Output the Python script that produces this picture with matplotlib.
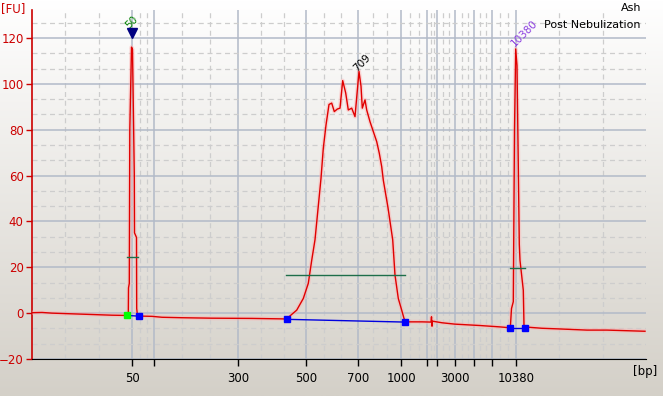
import numpy as np
import matplotlib
matplotlib.use("Agg")
import matplotlib.pyplot as plt
from matplotlib.ticker import FixedLocator, MultipleLocator

# migration position (arbitrary run units) and fluorescence [FU]
trace_pos = [0, 10, 20, 40, 60, 80, 94, 96.3, 96.5, 97.3, 97.8, 99.5, 100.5, 102.3, 102.5, 104.5, 104.7,
             105.5, 106.5, 110, 120, 130, 150, 180, 220, 250, 254.7, 258, 264.7, 271.3, 276.3, 279.7,
             283, 289, 291.3, 294, 297, 299.7, 302.3, 305.3, 308, 310.7, 313.7, 316.3, 319.7, 323, 327,
             329, 330.3, 333, 334.7, 338, 341.3, 344.7, 347.3, 349.7, 351.3, 356, 360.7, 363, 366.3,
             369.7, 372, 373.3, 376, 390, 399, 399.5, 400, 400.5, 410, 423, 448, 468, 478.3, 479.5,
             481.3, 482.5, 483.7, 485, 487.3, 488, 491.3, 492, 493.3, 498, 510, 528, 555, 575, 590, 613]
trace_fu = [0.2, 0.3, 0.0, -0.3, -0.6, -0.9, -1.0, -0.8, 11, 13, 80, 116, 115, 60, 35, 33, 2,
            -1.1, -1.3, -1.3, -1.4, -1.8, -2.0, -2.2, -2.3, -2.5, -2.6, -1.2, 1.3, 6.4, 13, 23,
            32, 58.8, 71.9, 82, 91, 91.6, 87.9, 89, 89.4, 101.4, 96, 88.6, 89.4, 85.7, 105.4,
            99, 89.4, 93, 88.6, 83.5, 79.2, 74.8, 69.7, 63.9, 58, 46, 32, 16.6, 6.4,
            1.3, -2.3, -3.5, -3.8, -3.8, -3.9, -1.6, -5.7, -3.5, -4.2, -4.8, -5.4, -6.0, -6.4, 2,
            5, 80, 115.2, 108, 30, 23, 10, -5.5, -6.2, -6.2, -6.6, -6.9, -7.4, -7.4, -7.6, -7.9]

# x axis ladder: tick positions and bp labels
tick_pos = [100.3, 122.3, 206.3, 274.3, 326.3, 369.3, 395.3, 405.3, 423.3, 442.3, 459.7, 484.3]
tick_lbl = ["50", "", "300", "500", "700", "1000", "", "", "3000", "", "", "10380"]
x_max = 613.7

# peak start / end markers
start_pos = [95.3]
start_fu = [-1.0]
end_pos = [106.5, 254.7, 373.3, 478.3, 493.3]
end_fu = [-1.3, -2.7, -3.9, -6.4, -6.4]
# baselines under peaks/region
base_x = [[95.3, 106.5], [254.7, 373.3], [478.3, 493.3]]
base_y = [[-1.0, -1.3], [-2.7, -3.9], [-6.4, -6.4]]
# width lines
width_x = [[95, 106], [254, 373], [478, 493]]
width_y = [24.3, 16.6, 19.5]

# peak labels
peak_lbl = ["50", "709", "10380"]
peak_lbl_pos = [(98.5, 123.5), (326.5, 104.5), (484, 115.5)]
peak_lbl_col = ["#008000", "black", "#8a3ce0"]

fig = plt.figure(figsize=(6.63, 3.96), dpi=100)

# background gradient
bg = fig.add_axes([0, 0, 1, 1], zorder=-10)
grad = np.linspace(0, 1, 256)[:, None]
top = np.array([1.0, 1.0, 1.0])
bot = np.array([212, 208, 200]) / 255
img = top[None, None, :] * (1 - grad[..., None]) + bot[None, None, :] * grad[..., None]
bg.imshow(img, aspect="auto", extent=[0, 1, 0, 1])
bg.axis("off")

ax = fig.add_axes([32 / 663, 37 / 396, 613.7 / 663, 349 / 396])
ax.set_facecolor("none")
ax.set_xlim(0, x_max)
ax.set_ylim(-20, 132.2)

# grid
minor_x = []
edges = [0] + tick_pos + [x_max]
for a, b in zip(edges[:-1], edges[1:]):
    minor_x += [a + (b - a) / 3, a + 2 * (b - a) / 3]
ax.xaxis.set_major_locator(FixedLocator(tick_pos))
ax.xaxis.set_minor_locator(FixedLocator(minor_x))
ax.set_xticklabels(tick_lbl)
ax.yaxis.set_major_locator(MultipleLocator(20))
ax.yaxis.set_minor_locator(MultipleLocator(20 / 3))
ax.grid(which="major", color="#b2bac8", lw=1.1, ls="-", zorder=0)
ax.grid(which="minor", color="#cdcdcd", lw=0.9, ls=(0, (4, 3)), zorder=0)
ax.set_axisbelow(True)

ax.spines["top"].set_visible(False)
ax.spines["right"].set_visible(False)
ax.spines["left"].set_color("#cc0000")
ax.spines["left"].set_linewidth(1.2)
ax.spines["bottom"].set_color("black")
ax.tick_params(axis="y", which="major", colors="#cc0000", labelcolor="#cc0000", length=4, width=1, labelsize=8.5, pad=2)
ax.tick_params(axis="x", which="major", colors="black", length=5, width=1, labelsize=8.5, pad=4)
ax.tick_params(which="minor", length=0)

# trace with glow
ax.plot(trace_pos, trace_fu, color="#ffb0b0", lw=3, alpha=0.45, zorder=3)
ax.plot(trace_pos, trace_fu, color="#e00000", lw=1.0, zorder=4)

for bx, by in zip(base_x, base_y):
    ax.plot(bx, by, color="#0000e0", lw=1.0, zorder=5)
for wx, wy in zip(width_x, width_y):
    ax.plot(wx, [wy, wy], color="#1e6e4a", lw=1.0, zorder=5)

ax.plot(start_pos, start_fu, "s", color="#00ff00", ms=4, zorder=6)
ax.plot(end_pos, end_fu, "s", color="#0000ff", ms=4, zorder=6)
ax.plot([100.3], [122], "v", color="#000080", ms=7, zorder=6)

for lbl, (px, py), c in zip(peak_lbl, peak_lbl_pos, peak_lbl_col):
    ax.text(px, py, lbl, color=c, fontsize=7.5, rotation=45, rotation_mode="anchor",
            ha="left", va="bottom")

fig.text(1 / 663, 1 - 2 / 396, "[FU]", color="#cc0000", fontsize=8.5, ha="left", va="top")
fig.text(657 / 663, 1 - 372 / 396, "[bp]", color="black", fontsize=8.5, ha="right", va="center")
fig.text(641 / 663, 1 - 8 / 396, "Ash", color="black", fontsize=8, ha="right", va="center")
fig.text(641 / 663, 1 - 25 / 396, "Post Nebulization", color="black", fontsize=8, ha="right", va="center")

fig.savefig("out.png", dpi=100)
